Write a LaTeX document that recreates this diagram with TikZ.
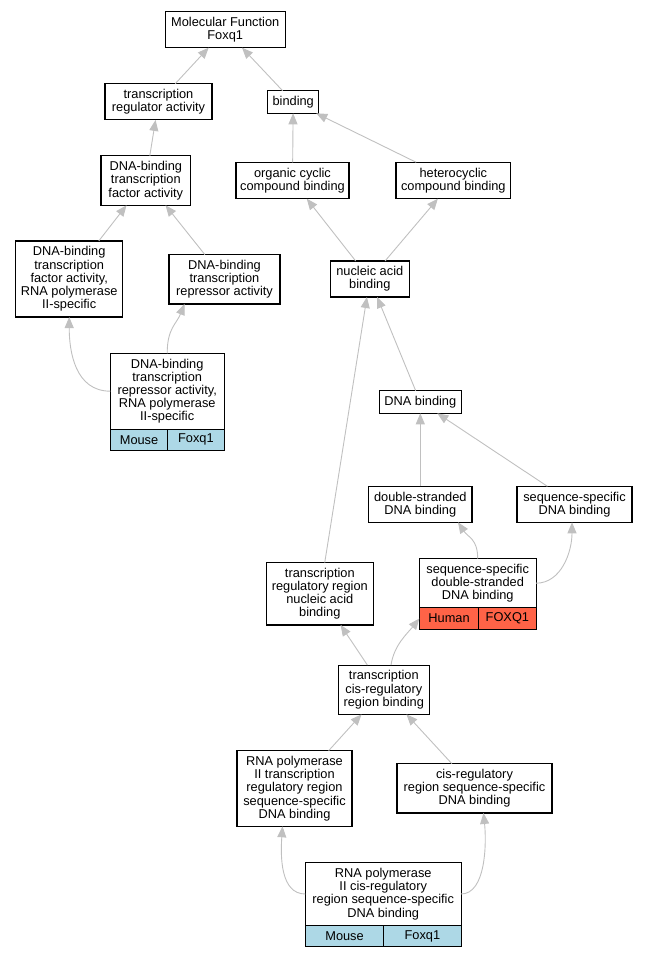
\documentclass[tikz,border=0pt]{standalone}
\usepackage{fontspec}
\setmainfont{Liberation Sans}
\usetikzlibrary{arrows.meta}
\definecolor{edgegray}{HTML}{C0C0C0}
\definecolor{mouseblue}{HTML}{ADD8E6}
\definecolor{humanred}{HTML}{FF6347}

\begin{document}
\begin{tikzpicture}[x=1pt,y=-1pt,
  term/.style={draw,line width=1.1pt,fill=white,align=center,inner sep=0pt,outer sep=0pt,
    font=\fontsize{12.8}{13.2}\selectfont},
  cell/.style={term,anchor=north west},
  isa/.style={draw=edgegray,line width=0.9pt,-{Triangle[length=11pt,width=9pt]}}]

\useasboundingbox (0,0) rectangle (648,957) ;

%top of the ontology
\node [term,minimum width=120.3pt,minimum height=35.7pt] (mf) at (225.2,29.8) {Molecular Function\\Foxq1} ;
\node [term,minimum width=107pt,minimum height=36.3pt] (trreg) at (158.5,101.8) {transcription\\regulator activity} ;
\node [term,minimum width=51pt,minimum height=22.6pt] (binding) at (293.2,102) {binding} ;

%second and third levels
\node [term,minimum width=89.7pt,minimum height=49.6pt] (dbtf) at (145.8,180.5) {DNA-binding\\transcription\\factor activity} ;
\node [term,minimum width=113pt,minimum height=36.4pt] (orgcyc) at (292.5,180.5) {organic cyclic\\compound binding} ;
\node [term,minimum width=114.7pt,minimum height=36.4pt] (hetcyc) at (453.3,180.5) {heterocyclic\\compound binding} ;
\node [term,minimum width=107pt,minimum height=76pt] (dbtfpol) at (69.2,279) {DNA-binding\\transcription\\factor activity,\\RNA polymerase\\II-specific} ;
\node [term,minimum width=111pt,minimum height=49.3pt] (dbtr) at (224.5,279.3) {DNA-binding\\transcription\\repressor activity} ;
\node [term,minimum width=79pt,minimum height=36pt] (nucacid) at (369.8,279) {nucleic acid\\binding} ;

%mouse annotation, left branch
\node [term,minimum width=113.7pt,minimum height=75.7pt] (dbtrpol) at (167.2,391.2) {DNA-binding\\transcription\\repressor activity,\\RNA polymerase\\II-specific} ;
\node [cell,fill=mouseblue,minimum width=57.4pt,minimum height=21.7pt] (dbtrpolsp) at (dbtrpol.south west) {Mouse} ;
\node [cell,fill=mouseblue,minimum width=56.3pt,minimum height=21.7pt] (dbtrpolgn) at (dbtrpolsp.north east) {Foxq1} ;

%DNA binding branch
\node [term,minimum width=82pt,minimum height=22.6pt] (dnab) at (420.3,402) {DNA binding} ;
\node [term,minimum width=103.3pt,minimum height=36pt] (dsdna) at (420.3,504.3) {double-stranded\\DNA binding} ;
\node [term,minimum width=115pt,minimum height=36pt] (ssdna) at (574.5,504.3) {sequence-specific\\DNA binding} ;
\node [term,minimum width=107pt,minimum height=62.3pt] (trrnab) at (319.8,593.8) {transcription\\regulatory region\\nucleic acid\\binding} ;

%human annotation
\node [term,minimum width=116.7pt,minimum height=49pt] (ssds) at (477.7,583.2) {sequence-specific\\double-stranded\\DNA binding} ;
\node [cell,fill=humanred,minimum width=59.4pt,minimum height=21.6pt] (ssdssp) at (ssds.south west) {Human} ;
\node [cell,fill=humanred,minimum width=57.3pt,minimum height=21.6pt] (ssdsgn) at (ssdssp.north east) {FOXQ1} ;

%lower levels
\node [term,minimum width=91pt,minimum height=49.3pt] (trcis) at (383.8,689.7) {transcription\\cis-regulatory\\region binding} ;
\node [term,minimum width=115pt,minimum height=75.6pt] (rnapoltr) at (294.5,788.5) {RNA polymerase\\II transcription\\regulatory region\\sequence-specific\\DNA binding} ;
\node [term,minimum width=155pt,minimum height=49.3pt] (cisreg) at (474.5,788.3) {cis-regulatory\\region sequence-specific\\DNA binding} ;

%mouse annotation, bottom
\node [term,minimum width=155.7pt,minimum height=62.6pt] (rnapolcis) at (383.2,894) {RNA polymerase\\II cis-regulatory\\region sequence-specific\\DNA binding} ;
\node [cell,fill=mouseblue,minimum width=78.4pt,minimum height=21.4pt] (rnapolcissp) at (rnapolcis.south west) {Mouse} ;
\node [cell,fill=mouseblue,minimum width=77.3pt,minimum height=21.4pt] (rnapolcisgn) at (rnapolcissp.north east) {Foxq1} ;

%is-a edges
\draw [isa] (trreg) -- (mf) ;
\draw [isa] (binding) -- (mf) ;
\draw [isa] (dbtf) -- (trreg) ;
\draw [isa] (orgcyc) -- (binding) ;
\draw [isa] (hetcyc) -- (binding) ;
\draw [isa] (dbtfpol) -- (dbtf) ;
\draw [isa] (dbtr) -- (dbtf) ;
\draw [isa] (nucacid) -- (orgcyc) ;
\draw [isa] (nucacid) -- (hetcyc) ;
\draw [isa] (dbtrpol.west) .. controls +(-35,0) and +(0,35) .. (dbtfpol.south) ;
\draw [isa] (dbtrpol.north) .. controls +(0,-25) and +(-8,20) .. ([xshift=-40pt]dbtr.south) ;
\draw [isa] (dnab) -- (nucacid) ;
\draw [isa] (dsdna) -- (dnab) ;
\draw [isa] (ssdna) -- (dnab) ;
\draw [isa] (trrnab) -- (nucacid) ;
\draw [isa] (ssds.north) .. controls +(0,-20) and +(10,15) .. ([xshift=37.7pt]dsdna.south) ;
\draw [isa] (ssds.east) .. controls +(25,0) and +(0,30) .. ([xshift=-2.5pt]ssdna.south) ;
\draw [isa] (trcis) -- (trrnab) ;
\draw [isa] ([xshift=7.2pt]trcis.north) .. controls +(3,-20) and +(-12,15) .. (ssdssp.west) ;
\draw [isa] (rnapoltr) -- (trcis) ;
\draw [isa] (cisreg) -- (trcis) ;
\draw [isa] (rnapolcis.west) .. controls +(-25,0) and +(-2,30) .. ([xshift=-12pt]rnapoltr.south) ;
\draw [isa] (rnapolcis.east) .. controls +(25,0) and +(3,30) .. ([xshift=9pt]cisreg.south) ;

\end{tikzpicture}
\end{document}
